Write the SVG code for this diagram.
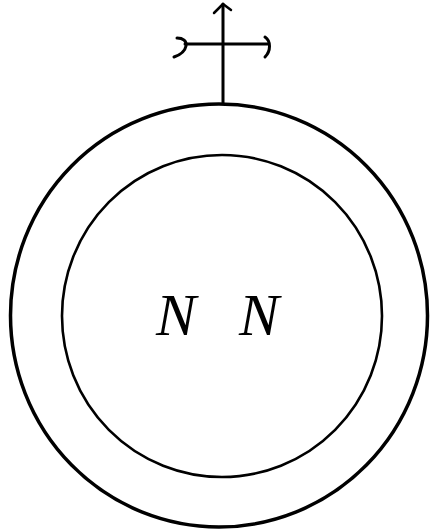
<svg xmlns="http://www.w3.org/2000/svg" width="430" height="531" viewBox="0 0 430 531">
<style>
.ln{fill:none;stroke:#000;stroke-linecap:round;stroke-linejoin:round}
.lbl{font-family:"Liberation Serif",serif;font-style:italic;font-size:60px;fill:#000}
</style>
<rect width="430" height="531" fill="#fff"/>
<g id="outer-circle"><ellipse class="ln" cx="219" cy="315.5" rx="208.5" ry="211.5" stroke-width="3.5"/></g>
<g id="inner-circle"><ellipse class="ln" cx="222" cy="316" rx="160" ry="161" stroke-width="2.6"/></g>
<g id="cross">
<line class="ln" x1="223" y1="4" x2="223" y2="103" stroke-width="3"/>
<polyline class="ln" points="214,13 223,4 231,10" stroke-width="2.5"/>
<line class="ln" x1="185" y1="44" x2="268" y2="44" stroke-width="3"/>
<path class="ln" d="M177,38 C183,38 187,41 186,46 C185,51 180,55 174,57" stroke-width="3"/>
<path class="ln" d="M265,37 C271,41 271,51 265,57" stroke-width="3"/>
</g>
<g id="label"><text class="lbl" x="156" y="335" word-spacing="28">N N</text></g>
</svg>
